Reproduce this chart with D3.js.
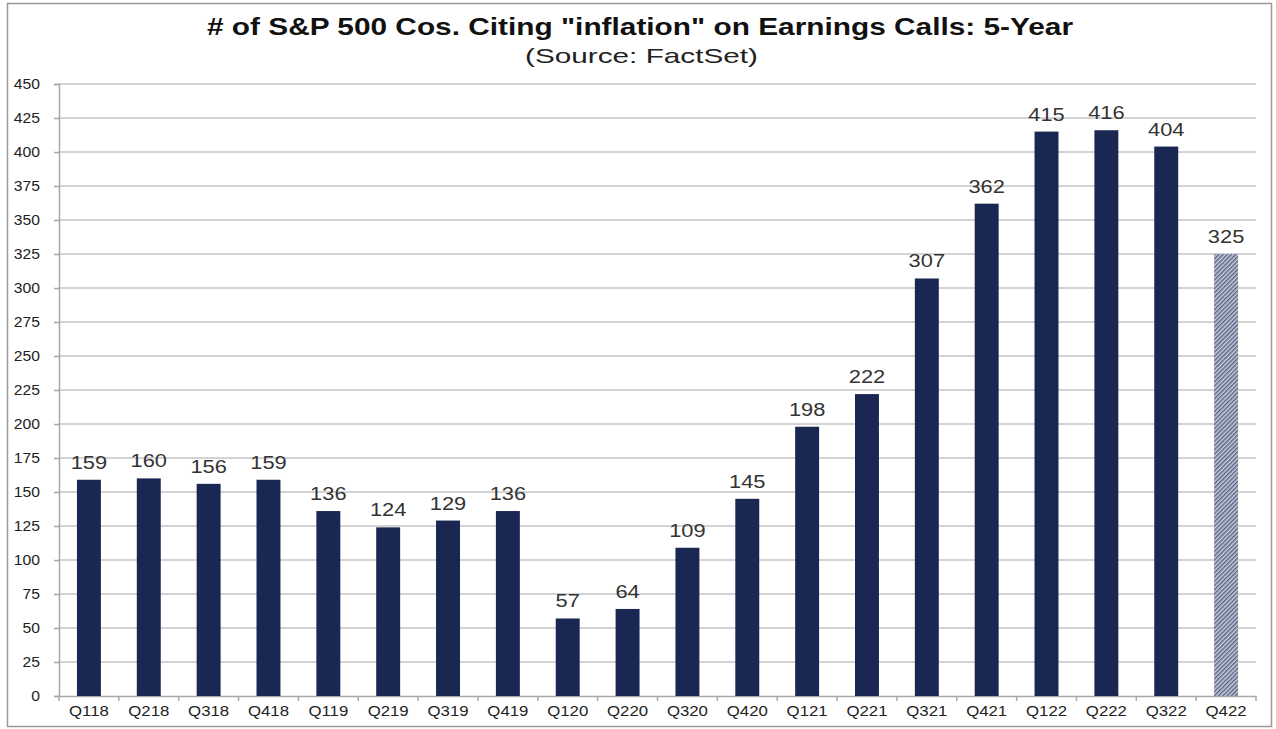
<!DOCTYPE html>
<html><head><meta charset="utf-8">
<script src="https://cdn.jsdelivr.net/npm/d3@7"></script>
<style>html,body{margin:0;padding:0;background:#fff;}svg{display:block;}</style>
</head><body>
<svg id="chart" width="1276" height="729"></svg>
<script>
const categories = ["Q118","Q218","Q318","Q418","Q119","Q219","Q319","Q419","Q120","Q220","Q320","Q420","Q121","Q221","Q321","Q421","Q122","Q222","Q322","Q422"];
const values = [159,160,156,159,136,124,129,136,57,64,109,145,198,222,307,362,415,416,404,325];
const estimated = [false,false,false,false,false,false,false,false,false,false,false,false,false,false,false,false,false,false,false,true];
const yTicks = d3.range(0, 451, 25);
const titleText = '# of S&P 500 Cos. Citing "inflation" on Earnings Calls: 5-Year';
const subtitleText = '(Source: FactSet)';

const FONT = "Liberation Sans, Arial, sans-serif";
const svg = d3.select("#chart");
const m = {left: 59, right: 1256};
const x = d3.scaleBand().domain(categories).range([m.left, m.right]).paddingInner(0.6).paddingOuter(0.3);
const y = d3.scaleLinear().domain([0, 450]).range([696, 84]);

const defs = svg.append("defs");
const pat = defs.append("pattern").attr("id","hatch").attr("patternUnits","userSpaceOnUse")
  .attr("width",3).attr("height",3).attr("patternTransform","rotate(45)");
pat.append("rect").attr("width",3).attr("height",3).attr("fill","#c9cedb");
pat.append("rect").attr("width",1.5).attr("height",3).attr("fill","#5a6688");

// outer border
svg.append("rect").attr("x",7.5).attr("y",3.5).attr("width",1264).attr("height",723)
  .attr("fill","none").attr("stroke","#9a9a9a").attr("stroke-width",1.5);

// gridlines
svg.append("g").selectAll("line").data(yTicks.filter(d=>d>0)).join("line")
  .attr("x1", m.left).attr("x2", m.right)
  .attr("y1", d=>y(d)).attr("y2", d=>y(d))
  .attr("stroke","#c4c4c4").attr("stroke-width",1.6);

// y axis
const yAxis = d3.axisLeft(y).tickValues(yTicks).tickSize(5).tickPadding(12);
const gy = svg.append("g").attr("transform",`translate(${m.left},0)`).call(yAxis);
gy.select(".domain").attr("stroke","#a8a8a8").attr("stroke-width",1.5);
gy.selectAll(".tick line").attr("stroke","#a8a8a8").attr("stroke-width",1.5);
gy.selectAll("text").attr("font-family",FONT).attr("font-size",14).attr("fill","#222")
  .attr("transform","scale(1.12,1)");

// x axis
const xAxis = d3.axisBottom(x).tickSize(0).tickPadding(10);
const gx = svg.append("g").attr("transform",`translate(0,${y(0)})`).call(xAxis);
gx.select(".domain").attr("stroke","#a8a8a8").attr("stroke-width",1.5);
gx.selectAll("text").attr("font-family",FONT).attr("font-size",14).attr("fill","#222")
  .attr("transform","scale(1.2,1)");
// category boundary ticks
const step = x.step();
gx.append("g").selectAll("line").data(d3.range(categories.length+1)).join("line")
  .attr("x1", i => m.left + i*step).attr("x2", i => m.left + i*step)
  .attr("y1",0).attr("y2",5).attr("stroke","#a8a8a8").attr("stroke-width",1.5);

// bars
svg.append("g").selectAll("rect").data(categories).join("rect")
  .attr("x", d=>x(d)).attr("width", x.bandwidth())
  .attr("y", (d,i)=>y(values[i])).attr("height",(d,i)=>y(0)-y(values[i]))
  .attr("fill",(d,i)=> estimated[i] ? "url(#hatch)" : "#1a2752");

// value labels
svg.append("g").selectAll("text").data(categories).join("text")
  .attr("transform",(d,i)=>`translate(${x(d)+x.bandwidth()/2},${y(values[i])-11}) scale(1.15,1)`)
  .attr("text-anchor","middle").attr("font-family",FONT)
  .attr("font-size",19).attr("fill","#333")
  .text((d,i)=>values[i]);

// titles
svg.append("text").attr("x",207).attr("y",35)
  .attr("textLength",866).attr("lengthAdjust","spacingAndGlyphs")
  .attr("font-family",FONT).attr("font-weight","bold")
  .attr("font-size",24).attr("fill","#111").text(titleText);
svg.append("text").attr("x",525).attr("y",63)
  .attr("textLength",233).attr("lengthAdjust","spacingAndGlyphs")
  .attr("font-family",FONT)
  .attr("font-size",21).attr("fill","#222").text(subtitleText);
</script>
</body></html>
